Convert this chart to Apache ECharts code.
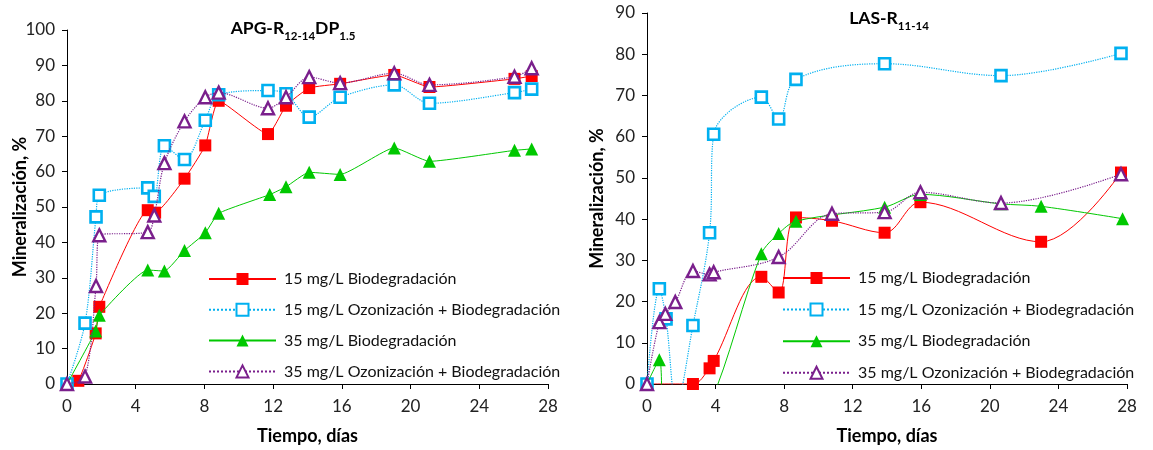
<!DOCTYPE html>
<html>
<head>
<meta charset="utf-8">
<script src="https://cdn.jsdelivr.net/npm/echarts@6/dist/echarts.min.js"></script>
<style>
html,body{margin:0;padding:0;background:#fff;}
#chart{width:1153px;height:450px;}
</style>
</head>
<body>
<div id="chart"></div>
<script>
// ---------- Series names ----------
const seriesNames = [
  '15 mg/L Biodegradación',
  '15 mg/L Ozonización + Biodegradación',
  '35 mg/L Biodegradación',
  '35 mg/L Ozonización + Biodegradación'
];

// ---------- Axis ticks ----------
const xTicks = [0, 4, 8, 12, 16, 20, 24, 28];
const apgYTicks = [0, 10, 20, 30, 40, 50, 60, 70, 80, 90, 100];
const lasYTicks = [0, 10, 20, 30, 40, 50, 60, 70, 80, 90];

// ---------- APG-R12-14DP1.5 (left) ----------
const apgBio15Days = [0, 0.66, 1.67, 1.88, 4.7, 5.13, 6.84, 8.05, 8.83, 11.7, 12.75, 14.1, 15.9, 19.05, 21.1, 26.05, 27.05];
const apgBio15Vals = [0, 0.9, 14.3, 21.8, 49.1, 48.4, 58.0, 67.4, 80.0, 70.6, 78.6, 83.6, 84.8, 87.3, 83.9, 86.2, 87.0];

const apgOzo15Days = [0, 1.05, 1.69, 1.88, 4.7, 5.08, 5.67, 6.84, 8.05, 8.83, 11.7, 12.75, 14.1, 15.9, 19.05, 21.1, 26.05, 27.05];
const apgOzo15Vals = [0, 17.2, 47.2, 53.3, 55.4, 53.0, 67.3, 63.4, 74.5, 81.7, 82.9, 82.0, 75.4, 81.0, 84.5, 79.3, 82.3, 83.3];

const apgBio35Days = [0, 1.67, 1.88, 4.7, 5.67, 6.84, 8.05, 8.83, 11.8, 12.75, 14.1, 15.9, 19.05, 21.1, 26.05, 27.05];
const apgBio35Vals = [0, 15.0, 19.4, 32.2, 31.9, 37.7, 42.7, 48.2, 53.5, 55.7, 59.8, 59.2, 66.7, 62.9, 66.0, 66.4];

const apgOzo35Days = [0, 1.05, 1.69, 1.88, 4.7, 5.08, 5.67, 6.84, 8.05, 8.83, 11.7, 12.75, 14.1, 15.9, 19.05, 21.1, 26.05, 27.05];
const apgOzo35Vals = [0, 2.1, 27.7, 42.0, 42.9, 47.6, 62.4, 74.2, 81.0, 82.3, 77.9, 81.0, 86.7, 85.0, 87.8, 84.5, 86.8, 89.2];

// ---------- LAS-R11-14 (right) ----------
const lasBio15Days = [0, 2.68, 3.65, 3.89, 6.67, 7.68, 8.69, 10.79, 13.86, 15.95, 22.99, 27.65];
const lasBio15Vals = [0, 0, 3.8, 5.6, 26.0, 22.2, 40.4, 39.6, 36.7, 44.1, 34.5, 51.3];

const lasOzo15Days = [0, 0.72, 1.11, 1.72, 2.68, 3.65, 3.89, 6.67, 7.68, 8.69, 13.86, 20.65, 27.65];
const lasOzo15Vals = [0, 23.1, 15.8, -5, 14.2, 36.7, 60.6, 69.6, 64.3, 73.9, 77.7, 74.8, 80.2];

const lasBio35Days = [0, 0.72, 1.11, 3.65, 6.67, 7.68, 8.69, 13.86, 15.95, 20.65, 22.99, 27.74];
const lasBio35Vals = [0, 5.9, -20, -5, 31.6, 36.5, 39.5, 42.9, 46.0, 43.7, 43.1, 40.1];

const lasOzo35Days = [0, 0.72, 1.07, 1.65, 2.68, 3.65, 3.89, 7.68, 10.79, 13.86, 15.95, 20.65, 27.65];
const lasOzo35Vals = [0, 15.0, 17.0, 19.9, 27.4, 26.6, 27.1, 30.8, 41.3, 41.7, 46.5, 43.9, 50.9];

// ---------- helpers ----------
function pairs(xs, ys) { return xs.map((x, i) => [x, ys[i]]); }

const FONT = 'Lato, "Liberation Sans", sans-serif';
const RED = '#FF0000', CYAN = '#00B0F0', GREEN = '#00C800', PURPLE = '#7A1F8C';

const styles = [
  { symbol: 'rect', symbolSize: 12, itemStyle: { color: RED, borderColor: RED, borderWidth: 0 }, lineStyle: { color: RED, width: 1, type: 'solid' } },
  { symbol: 'rect', symbolSize: 11, itemStyle: { color: '#fff', borderColor: CYAN, borderWidth: 2.6 }, lineStyle: { color: CYAN, width: 1.2, type: 'dotted' } },
  { symbol: 'triangle', symbolSize: 13, itemStyle: { color: GREEN, borderColor: GREEN, borderWidth: 0 }, lineStyle: { color: GREEN, width: 1, type: 'solid' } },
  { symbol: 'triangle', symbolSize: 12, itemStyle: { color: '#fff', borderColor: PURPLE, borderWidth: 2.4 }, lineStyle: { color: PURPLE, width: 1.2, type: 'dotted' } }
];

function mkSeries(idx, gridIdx, xs, ys, smooth) {
  const s = styles[idx];
  return {
    name: seriesNames[idx],
    type: 'line',
    xAxisIndex: gridIdx,
    yAxisIndex: gridIdx,
    data: pairs(xs, ys),
    symbol: s.symbol,
    symbolSize: s.symbolSize,
    showAllSymbol: true,
    itemStyle: s.itemStyle,
    lineStyle: s.lineStyle,
    smooth: smooth,
    clip: true,
    animation: false,
    z: 2 + idx
  };
}

function xAxisCfg(gridIndex) {
  return {
    gridIndex: gridIndex,
    type: 'value',
    min: xTicks[0],
    max: xTicks[xTicks.length - 1],
    interval: xTicks[1] - xTicks[0],
    name: 'Tiempo, días',
    nameLocation: 'middle',
    nameGap: 43,
    nameMoveOverlap: false,
    nameTextStyle: { fontFamily: FONT, fontSize: 18, fontWeight: 'bold', color: '#000' },
    axisLine: { show: true, onZero: false, lineStyle: { color: '#000', width: 1 } },
    axisTick: { show: true, inside: false, length: 5, lineStyle: { color: '#000' } },
    axisLabel: { fontFamily: FONT, fontSize: 17, color: '#222', margin: 14 },
    splitLine: { show: false }
  };
}

function yAxisCfg(gridIndex, ticks, gap) {
  return {
    gridIndex: gridIndex,
    type: 'value',
    min: ticks[0],
    max: ticks[ticks.length - 1],
    interval: ticks[1] - ticks[0],
    name: 'Mineralización, %',
    nameLocation: 'middle',
    nameGap: gap,
    nameRotate: 90,
    nameMoveOverlap: false,
    nameTextStyle: { fontFamily: FONT, fontSize: 18, fontWeight: 'bold', color: '#000' },
    axisLine: { show: true, onZero: false, lineStyle: { color: '#000', width: 1 } },
    axisTick: { show: true, inside: false, length: 5, lineStyle: { color: '#000' } },
    axisLabel: { fontFamily: FONT, fontSize: 17, color: '#222', margin: 12 },
    splitLine: { show: false }
  };
}

function legendCfg(left, top, gap) {
  return {
    orient: 'vertical',
    left: left,
    top: top,
    itemWidth: 67,
    itemHeight: 15,
    itemGap: gap,
    selectedMode: false,
    data: seriesNames,
    textStyle: { fontFamily: FONT, fontSize: 16, color: '#111', lineHeight: 16, padding: [0, 0, 0, 3] }
  };
}

const titleRich = {
  b: { fontFamily: FONT, fontSize: 17.5, fontWeight: 'bold', color: '#000', lineHeight: 24, verticalAlign: 'bottom' },
  s: { fontFamily: FONT, fontSize: 11.5, fontWeight: 'bold', color: '#000', lineHeight: 24, verticalAlign: 'bottom', padding: [0, 0, -5, 0] }
};

const option = {
  backgroundColor: '#fff',
  animation: false,
  title: [
    { text: '{b|APG-R}{s|12-14}{b|DP}{s|1.5}', left: 288, top: 8, textAlign: 'center', textStyle: { rich: titleRich } },
    { text: '{b|LAS-R}{s|11-14}', left: 884, top: -2, textAlign: 'center', textStyle: { rich: titleRich } }
  ],
  grid: [
    { left: 67, top: 30, width: 481, height: 355 },
    { left: 647, top: 13, width: 480, height: 376 }
  ],
  xAxis: [xAxisCfg(0), xAxisCfg(1)],
  yAxis: [yAxisCfg(0, apgYTicks, 38), yAxisCfg(1, lasYTicks, 41)],
  legend: [legendCfg(203, 266, 14.8), legendCfg(777, 265, 15.6)],
  series: [
    mkSeries(0, 0, apgBio15Days, apgBio15Vals, 0.15),
    mkSeries(1, 0, apgOzo15Days, apgOzo15Vals, 0.3),
    mkSeries(2, 0, apgBio35Days, apgBio35Vals, 0.15),
    mkSeries(3, 0, apgOzo35Days, apgOzo35Vals, 0.3),
    mkSeries(0, 1, lasBio15Days, lasBio15Vals, 0.35),
    mkSeries(1, 1, lasOzo15Days, lasOzo15Vals, 0.35),
    mkSeries(2, 1, lasBio35Days, lasBio35Vals, 0.3),
    mkSeries(3, 1, lasOzo35Days, lasOzo35Vals, 0.35)
  ]
};

const chart = echarts.init(document.getElementById('chart'), null, { renderer: 'canvas' });
chart.setOption(option);
</script>
</body>
</html>
